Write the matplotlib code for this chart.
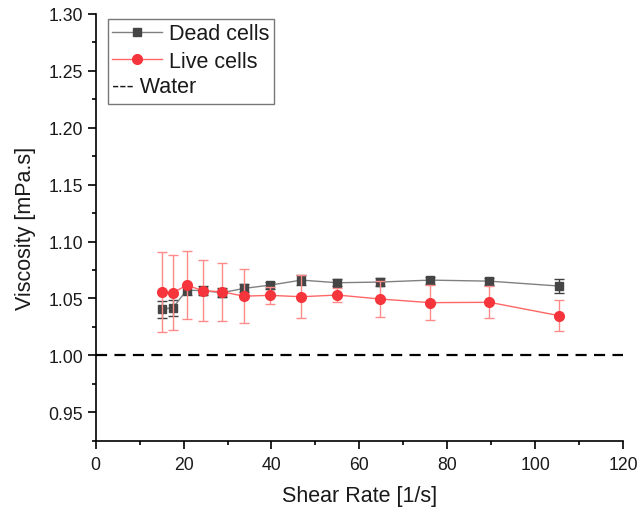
import matplotlib
matplotlib.use("Agg")
import matplotlib.pyplot as plt
from matplotlib.lines import Line2D
from matplotlib.text import Text
from matplotlib.legend_handler import HandlerBase
from matplotlib.ticker import MultipleLocator, FormatStrFormatter

plt.rcParams['font.family'] = ['Liberation Sans', 'DejaVu Sans']

shear_rate = [15.0, 17.6, 20.7, 24.4, 28.7, 33.7, 39.7, 46.8, 55.0, 64.7, 76.1, 89.6, 105.4]
dead_visc = [1.0404, 1.0419, 1.0573, 1.0568, 1.0550, 1.0588, 1.0617, 1.0661, 1.0638, 1.0644, 1.0661, 1.0652, 1.0609]
dead_err = [0.0072, 0.0070, 0.0040, 0.0040, 0.0040, 0.0035, 0.0030, 0.0044, 0.0030, 0.0037, 0.0030, 0.0030, 0.0063]
live_visc = [1.0559, 1.0550, 1.0617, 1.0568, 1.0559, 1.0520, 1.0527, 1.0515, 1.0530, 1.0495, 1.0463, 1.0466, 1.0349]
live_err = [0.0350, 0.0330, 0.0300, 0.0270, 0.0256, 0.0235, 0.0077, 0.0190, 0.0065, 0.0155, 0.0155, 0.0140, 0.0133]
water_visc = 1.00

fig = plt.figure(figsize=(6.41, 5.10), dpi=100)
ax = fig.add_axes([0.1493, 0.134, 0.8227, 0.8366])

ax.errorbar(shear_rate, dead_visc, yerr=dead_err, fmt='none', ecolor='#404040',
            elinewidth=1.0, capsize=3.5, capthick=1.0, zorder=2)
ax.plot(shear_rate, dead_visc, '-', color='#808080', lw=1.0, zorder=2)
ax.plot(shear_rate, dead_visc, 's', color='#454545', ms=6.3, mec='#454545', zorder=3)

ax.errorbar(shear_rate, live_visc, yerr=live_err, fmt='none', ecolor='#ff8a8a',
            elinewidth=1.0, capsize=3.5, capthick=1.0, zorder=4)
ax.plot(shear_rate, live_visc, '-', color='#ff6666', lw=1.0, zorder=4)
ax.plot(shear_rate, live_visc, 'o', color='#f5353b', ms=7.0, mec='#f5353b', zorder=5)

ax.axhline(water_visc, color='black', lw=1.6, linestyle=(0, (5, 3.3)), zorder=1)

ax.set_xlim(0, 120)
ax.set_ylim(0.925, 1.30)
ax.xaxis.set_major_locator(MultipleLocator(20))
ax.xaxis.set_minor_locator(MultipleLocator(10))
ax.yaxis.set_major_locator(MultipleLocator(0.05))
ax.yaxis.set_minor_locator(MultipleLocator(0.025))
ax.yaxis.set_major_formatter(FormatStrFormatter('%.2f'))
ax.spines['top'].set_visible(False)
ax.spines['right'].set_visible(False)
for s in ('left', 'bottom'):
    ax.spines[s].set_linewidth(1.2)
ax.tick_params(which='major', direction='out', length=5.5, width=1.2, labelsize=12.7,
               colors='black', labelcolor='#1a1a1a')
ax.tick_params(which='minor', direction='out', length=3, width=1.2)
ax.tick_params(axis='x', pad=5.5)
ax.tick_params(axis='y', pad=3.5)

ax.set_xlabel('Shear Rate [1/s]', fontsize=15.5, labelpad=9, color='#1a1a1a')
ax.set_ylabel('Viscosity [mPa.s]', fontsize=15.5, labelpad=9, color='#1a1a1a')


class HandlerTextOnly(HandlerBase):
    def create_artists(self, legend, orig_handle, xdescent, ydescent, width, height, fontsize, trans):
        t = Text(-xdescent, -ydescent + height * 0.5, '--- Water', fontsize=fontsize,
                 va='center', ha='left', transform=trans, color='#1a1a1a',
                 family=['Liberation Sans', 'DejaVu Sans'])
        return [t]


h_dead = Line2D([], [], color='#808080', lw=1.0, marker='s', ms=6.3,
                mfc='#454545', mec='#454545')
h_live = Line2D([], [], color='#ff6666', lw=1.0, marker='o', ms=7.0,
                mfc='#f5353b', mec='#f5353b')
h_water = Line2D([], [], color='none')

leg = ax.legend([h_dead, h_live, h_water], ['Dead cells', 'Live cells', ''],
                handler_map={h_water: HandlerTextOnly()},
                loc='upper left', bbox_to_anchor=(0.015, 0.998), fontsize=15.5,
                frameon=True, fancybox=False, edgecolor='#777777', framealpha=1,
                handlelength=2.3, handletextpad=0.35, borderpad=0.2,
                labelspacing=0.3, borderaxespad=0.2)
for t in leg.get_texts():
    t.set_color('#1a1a1a')
leg.get_frame().set_linewidth(1.0)

fig.savefig('out.png', dpi=100)
